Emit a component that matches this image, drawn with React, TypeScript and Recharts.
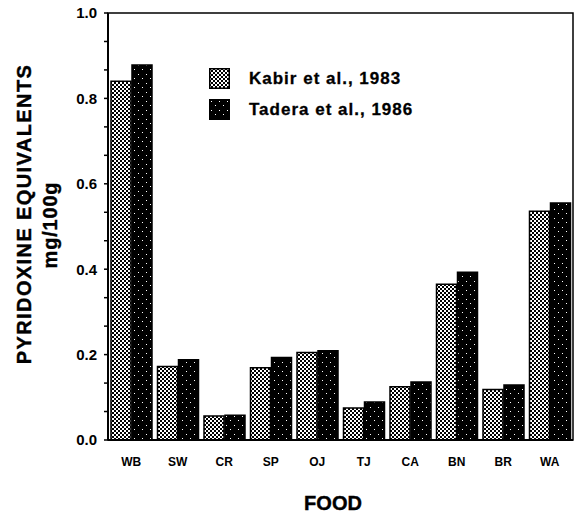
import React from 'react';
import { BarChart, Bar, XAxis, YAxis, Legend, ReferenceArea } from 'recharts';

const foods = ['WB', 'SW', 'CR', 'SP', 'OJ', 'TJ', 'CA', 'BN', 'BR', 'WA'];
const kabir = [0.84, 0.172, 0.056, 0.169, 0.205, 0.075, 0.125, 0.365, 0.118, 0.536];
const tadera = [0.878, 0.188, 0.058, 0.193, 0.209, 0.089, 0.136, 0.393, 0.129, 0.555];
const seriesNames = ['Kabir et al., 1983', 'Tadera et al., 1986'];
const yMajorTicks = [0, 0.2, 0.4, 0.6, 0.8, 1.0];
const yMinorTicks = [0.0667, 0.1333, 0.2667, 0.3333, 0.4667, 0.5333, 0.6667, 0.7333, 0.8667, 0.9333];

const data = foods.map((f, i) => ({ food: f, kabir: kabir[i], tadera: tadera[i] }));
const allTicks = [...yMajorTicks, ...yMinorTicks].sort((a, b) => a - b);
const fills = ['url(#pKabir)', 'url(#pTadera)'];
const FONT = '"Liberation Sans", Arial, sans-serif';

const isMajor = (v: number) => yMajorTicks.some((m) => Math.abs(m - v) < 1e-6);

const LegendContent = () => (
  <div style={{ fontFamily: FONT, fontWeight: 700, fontSize: 17, letterSpacing: 1.0, color: '#000', WebkitTextStroke: '0.3px #000' }}>
    {seriesNames.map((n, i) => (
      <div key={n} style={{ display: 'flex', alignItems: 'center', height: 21, marginBottom: i === 0 ? 10 : 0 }}>
        <svg width={21} height={21} style={{ display: 'block' }}>
          <rect x={0.75} y={0.75} width={19.5} height={19.5} fill={fills[i]} stroke="#000" strokeWidth={1.5} />
        </svg>
        <span style={{ marginLeft: 19, lineHeight: '21px' }}>{n}</span>
      </div>
    ))}
  </div>
);

export default function App() {
  return (
    <div style={{ position: 'absolute', left: 0, top: 0, width: 580, height: 513, background: '#fff' }}>
      <svg width={0} height={0} style={{ position: 'absolute' }}>
        <defs>
          <pattern id="pKabir" patternUnits="userSpaceOnUse" width={4} height={4}>
            <rect width={4} height={4} fill="#fff" />
            <rect x={0} y={0} width={2} height={2} fill="#000" />
            <rect x={2} y={2} width={2} height={2} fill="#000" />
          </pattern>
          <pattern id="pTadera" patternUnits="userSpaceOnUse" width={8} height={9}>
            <rect width={8} height={9} fill="#000" />
            <rect x={2} y={2} width={1} height={1} fill="#fff" />
            <rect x={6} y={6} width={1} height={1} fill="#fff" />
          </pattern>
        </defs>
      </svg>
      <BarChart
        width={580}
        height={513}
        data={data}
        margin={{ top: 13, right: 7, left: 0, bottom: 0 }}
        barCategoryGap={3}
        barGap={1}
      >
        <ReferenceArea y1={0} y2={1} fill="none" stroke="#000" strokeWidth={1.5} ifOverflow="visible" />
        <XAxis
          dataKey="food"
          height={73}
          tickLine={false}
          tickSize={0}
          tickMargin={17}
          axisLine={{ stroke: '#000', strokeWidth: 2 }}
          tick={{ fill: '#000', fontSize: 12, fontWeight: 700, fontFamily: FONT }}
          interval={0}
          label={{
            content: () => (
              <text x={333} y={510} textAnchor="middle" fontSize={20} fontWeight={700} fontFamily={FONT} fill="#000" stroke="#000" strokeWidth={0.4}>
                FOOD
              </text>
            ),
          }}
        />
        <YAxis
          width={108}
          domain={[0, 1]}
          ticks={allTicks}
          interval={0}
          tickSize={4}
          tickMargin={7}
          axisLine={{ stroke: '#000', strokeWidth: 2 }}
          tickLine={{ stroke: '#000', strokeWidth: 1.5 }}
          tickFormatter={(v: number) => (isMajor(v) ? v.toFixed(1) : '')}
          tick={{ fill: '#000', fontSize: 15, fontWeight: 700, fontFamily: FONT }}
          label={{
            content: () => (
              <g fontFamily={FONT} fontWeight={700} fill="#000" stroke="#000" strokeWidth={0.4}>
                <text x={24} y={214} transform="rotate(-90 24 214)" textAnchor="middle" dominantBaseline="central" fontSize={20} letterSpacing={1.4}>
                  PYRIDOXINE EQUIVALENTS
                </text>
                <text x={50} y={225} transform="rotate(-90 50 225)" textAnchor="middle" dominantBaseline="central" fontSize={20} letterSpacing={0.8}>
                  mg/100g
                </text>
              </g>
            ),
          }}
        />
        <Legend
          layout="vertical"
          align="center"
          verticalAlign="middle"
          content={LegendContent}
          wrapperStyle={{ left: 209, top: 68, width: 280 }}
        />
        <Bar dataKey="kabir" name={seriesNames[0]} fill={fills[0]} stroke="#000" strokeWidth={1.5} isAnimationActive={false} />
        <Bar dataKey="tadera" name={seriesNames[1]} fill={fills[1]} stroke="#000" strokeWidth={1.5} isAnimationActive={false} />
      </BarChart>
    </div>
  );
}
